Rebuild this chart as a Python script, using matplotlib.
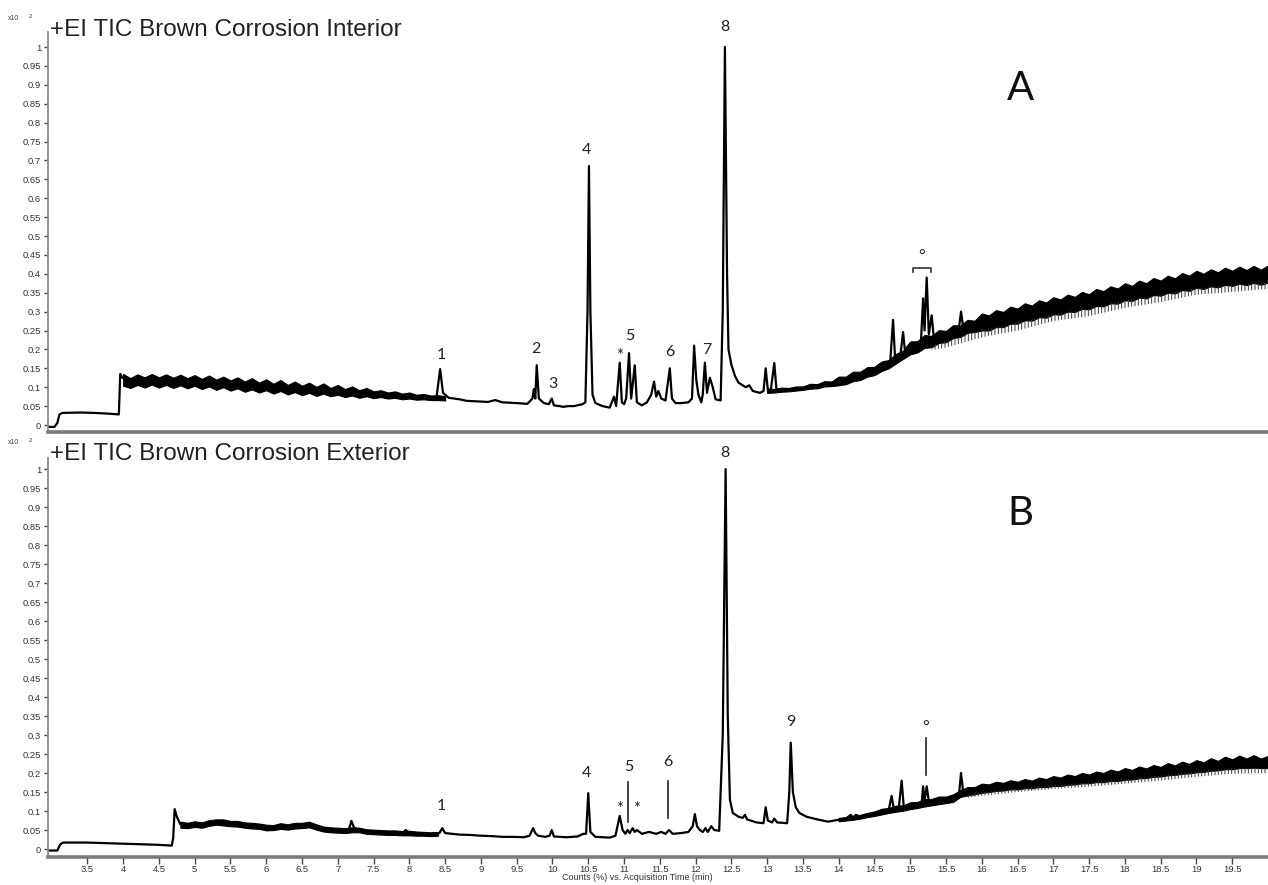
#!/usr/bin/env python3
"""GC-MS total ion chromatograms of brown corrosion, interior (A) and exterior (B)."""

import matplotlib
matplotlib.use('Agg')
import matplotlib.pyplot as plt
import numpy as np

# ---------------- panel A : interior ----------------
# (time [min], counts [x10^2 %]) thin trace incl. peaks
a_trace = [
    (2.95, -0.005), (3.04, -0.005), (3.08, 0.005), (3.11, 0.028), (3.15, 0.032),
    (3.4, 0.033), (3.6, 0.032), (3.8, 0.030), (3.94, 0.028), (3.96, 0.135),
    (3.99, 0.125), (4.1, 0.116), (4.5, 0.118), (5.0, 0.116), (5.5, 0.110),
    (6.0, 0.102), (6.5, 0.096), (7.0, 0.089), (7.5, 0.082), (8.0, 0.076),
    (8.3, 0.072), (8.38, 0.074), (8.43, 0.148), (8.47, 0.085), (8.55, 0.072),
    (8.7, 0.068), (8.8, 0.064), (8.9, 0.063), (9.0, 0.062), (9.1, 0.061),
    (9.2, 0.066), (9.3, 0.060), (9.4, 0.059), (9.5, 0.058), (9.65, 0.056),
    (9.72, 0.070), (9.74, 0.095), (9.76, 0.070), (9.78, 0.158), (9.81, 0.070),
    (9.88, 0.058), (9.95, 0.055), (9.99, 0.070), (10.02, 0.052), (10.1, 0.050),
    (10.15, 0.048), (10.22, 0.050), (10.3, 0.050), (10.42, 0.055), (10.46, 0.060),
    (10.49, 0.300), (10.51, 0.685), (10.53, 0.300), (10.56, 0.080), (10.6, 0.058),
    (10.7, 0.050), (10.8, 0.046), (10.86, 0.075), (10.89, 0.050), (10.94, 0.165),
    (10.97, 0.060), (11.0, 0.055), (11.03, 0.070), (11.07, 0.190), (11.1, 0.070),
    (11.15, 0.158), (11.18, 0.060), (11.25, 0.052), (11.32, 0.060), (11.38, 0.080),
    (11.42, 0.115), (11.45, 0.075), (11.48, 0.090), (11.52, 0.070), (11.58, 0.065),
    (11.64, 0.150), (11.67, 0.070), (11.72, 0.058), (11.8, 0.058), (11.9, 0.060),
    (11.95, 0.070), (11.98, 0.210), (12.01, 0.120), (12.04, 0.080), (12.08, 0.060),
    (12.1, 0.080), (12.13, 0.165), (12.16, 0.085), (12.2, 0.125), (12.24, 0.100),
    (12.28, 0.068), (12.35, 0.065), (12.38, 0.300), (12.41, 1.000), (12.44, 0.400),
    (12.46, 0.200), (12.5, 0.160), (12.55, 0.130), (12.6, 0.112), (12.7, 0.100),
    (12.75, 0.105), (12.8, 0.090), (12.9, 0.085), (12.95, 0.090), (12.98, 0.150),
    (13.01, 0.092), (13.05, 0.090), (13.1, 0.164), (13.13, 0.095), (13.2, 0.092),
    (13.5, 0.098), (14.0, 0.115), (14.5, 0.147), (14.72, 0.165), (14.76, 0.278),
    (14.79, 0.170), (14.86, 0.180), (14.9, 0.246), (14.93, 0.190), (15.05, 0.210),
    (15.15, 0.220), (15.18, 0.335), (15.2, 0.250), (15.23, 0.390), (15.26, 0.240),
    (15.3, 0.290), (15.33, 0.230), (15.5, 0.241), (15.68, 0.255), (15.71, 0.300),
    (15.74, 0.258), (16.0, 0.275), (17.0, 0.318), (18.0, 0.355), (19.0, 0.388),
    (20.0, 0.402),
]

# thick noisy baseline band, sampled every 0.1 min
a_band1_time = np.round(np.arange(4.0, 8.55, 0.1), 2)
a_band1_upper = [
    .135, .124, .134, .126, .135, .126, .134, .125, .133, .124,
    .132, .122, .131, .120, .128, .118, .126, .115, .124, .112,
    .121, .109, .119, .106, .115, .104, .112, .101, .110, .098,
    .106, .095, .102, .092, .098, .089, .092, .086, .089, .083,
    .086, .080, .082, .078, .079, .076,
]
a_band1_lower = [
    .104, .098, .106, .099, .107, .099, .106, .098, .105, .097,
    .104, .095, .102, .093, .100, .091, .097, .088, .094, .086,
    .092, .083, .090, .081, .087, .079, .085, .077, .083, .076,
    .080, .074, .078, .072, .076, .071, .074, .070, .072, .068,
    .070, .067, .068, .066, .066, .065,
]

a_band2_time = np.round(np.arange(13.0, 20.05, 0.1), 2)
a_band2_upper = [
    .097, .095, .099, .098, .102, .102, .109, .108, .116, .115,
    .128, .128, .141, .141, .153, .154, .168, .172, .188, .197,
    .221, .222, .238, .236, .251, .249, .264, .263, .278, .276,
    .295, .290, .304, .299, .313, .308, .322, .316, .330, .324,
    .338, .332, .345, .339, .352, .346, .360, .354, .367, .361,
    .375, .368, .382, .375, .389, .382, .395, .388, .402, .395,
    .408, .400, .412, .404, .416, .408, .419, .410, .421, .411,
    .422,
]
a_band2_lower = [
    .085, .086, .088, .089, .091, .093, .096, .097, .102, .103,
    .105, .108, .116, .119, .128, .132, .143, .150, .163, .175,
    .187, .192, .204, .206, .217, .219, .230, .233, .244, .246,
    .250, .250, .259, .259, .268, .268, .277, .276, .285, .284,
    .293, .292, .300, .299, .307, .306, .315, .314, .322, .321,
    .330, .328, .337, .335, .344, .342, .350, .348, .357, .355,
    .363, .360, .367, .364, .371, .368, .374, .370, .376, .371,
    .377,
]

# hatch-like fringe under the band
a_fringe_time = [15.3, 15.5, 16.0, 16.5, 17.0, 17.5, 18.0, 18.5, 19.0, 19.5, 20.0]
a_fringe_top = [.210, .222, .252, .270, .293, .308, .330, .344, .362, .370, .378]
a_fringe_bottom = [.198, .205, .232, .250, .275, .288, .310, .325, .345, .352, .360]

# ---------------- panel B : exterior ----------------
b_trace = [
    (2.95, -0.004), (3.08, -0.004), (3.12, 0.012), (3.16, 0.017), (3.5, 0.017),
    (4.0, 0.014), (4.5, 0.011), (4.68, 0.009), (4.70, 0.030), (4.72, 0.105),
    (4.75, 0.085), (4.8, 0.065), (5.0, 0.065), (5.5, 0.067), (6.0, 0.056),
    (6.5, 0.062), (7.0, 0.049), (7.15, 0.048), (7.19, 0.074), (7.23, 0.055),
    (7.4, 0.046), (7.9, 0.042), (7.95, 0.050), (8.0, 0.042), (8.3, 0.039),
    (8.42, 0.042), (8.46, 0.055), (8.5, 0.042), (8.6, 0.040), (8.7, 0.038),
    (8.85, 0.037), (9.0, 0.035), (9.15, 0.034), (9.3, 0.032), (9.45, 0.032),
    (9.6, 0.031), (9.68, 0.035), (9.73, 0.055), (9.76, 0.042), (9.8, 0.035),
    (9.9, 0.032), (9.96, 0.035), (9.99, 0.050), (10.02, 0.033), (10.1, 0.032),
    (10.2, 0.031), (10.35, 0.033), (10.43, 0.040), (10.47, 0.040), (10.5, 0.147),
    (10.53, 0.045), (10.6, 0.032), (10.7, 0.031), (10.8, 0.030), (10.88, 0.035),
    (10.94, 0.087), (10.98, 0.050), (11.02, 0.040), (11.05, 0.050), (11.08, 0.042),
    (11.12, 0.055), (11.15, 0.045), (11.18, 0.050), (11.25, 0.040), (11.35, 0.045),
    (11.45, 0.040), (11.52, 0.045), (11.58, 0.040), (11.63, 0.050), (11.68, 0.040),
    (11.8, 0.042), (11.9, 0.045), (11.96, 0.060), (11.99, 0.092), (12.02, 0.060),
    (12.06, 0.050), (12.1, 0.045), (12.14, 0.055), (12.17, 0.045), (12.22, 0.060),
    (12.26, 0.050), (12.33, 0.048), (12.38, 0.300), (12.42, 1.000), (12.45, 0.350),
    (12.48, 0.130), (12.52, 0.095), (12.6, 0.085), (12.66, 0.082), (12.69, 0.090),
    (12.72, 0.078), (12.85, 0.070), (12.95, 0.068), (12.98, 0.110), (13.01, 0.075),
    (13.07, 0.070), (13.1, 0.080), (13.14, 0.070), (13.28, 0.068), (13.31, 0.150),
    (13.33, 0.280), (13.36, 0.150), (13.4, 0.110), (13.45, 0.095), (13.55, 0.085),
    (13.7, 0.078), (13.85, 0.072), (14.0, 0.077), (14.1, 0.080), (14.17, 0.090),
    (14.2, 0.080), (14.24, 0.090), (14.3, 0.085), (14.6, 0.099), (14.7, 0.103),
    (14.74, 0.140), (14.77, 0.105), (14.84, 0.108), (14.88, 0.180), (14.91, 0.110),
    (15.1, 0.118), (15.16, 0.120), (15.18, 0.165), (15.2, 0.125), (15.23, 0.165),
    (15.26, 0.125), (15.4, 0.129), (15.65, 0.135), (15.68, 0.140), (15.71, 0.200),
    (15.74, 0.150), (16.0, 0.160), (17.0, 0.179), (18.0, 0.199), (19.0, 0.219),
    (20.0, 0.229),
]

b_band1_time = np.round(np.arange(4.8, 8.45, 0.1), 2)
b_band1_upper = [
    .072, .069, .073, .070, .076, .078, .078, .074, .074, .070,
    .069, .067, .064, .063, .068, .065, .069, .069, .072, .065,
    .059, .057, .056, .055, .057, .056, .052, .051, .050, .049,
    .049, .047, .048, .046, .045, .044, .045,
]
b_band1_lower = [
    .056, .055, .058, .056, .061, .064, .062, .060, .059, .056,
    .054, .053, .049, .050, .053, .051, .054, .055, .057, .051,
    .046, .044, .043, .042, .044, .044, .040, .039, .038, .037,
    .037, .036, .036, .035, .035, .034, .035,
]

b_band2_time = np.round(np.arange(14.0, 20.05, 0.1), 2)
b_band2_upper = [
    .082, .084, .088, .090, .095, .099, .106, .108, .114, .115,
    .123, .124, .131, .132, .138, .138, .144, .155, .163, .163,
    .172, .170, .177, .174, .181, .177, .184, .180, .188, .184,
    .192, .188, .196, .192, .200, .196, .204, .200, .209, .204,
    .213, .208, .217, .212, .221, .216, .226, .220, .230, .224,
    .234, .228, .239, .232, .243, .236, .246, .238, .247, .238,
    .245,
]
b_band2_lower = [
    .073, .075, .077, .080, .084, .087, .091, .095, .098, .101,
    .105, .108, .112, .115, .118, .121, .124, .137, .141, .144,
    .148, .150, .153, .154, .157, .157, .160, .160, .163, .163,
    .166, .166, .169, .170, .173, .173, .176, .176, .179, .179,
    .182, .183, .186, .187, .190, .191, .194, .195, .198, .199,
    .202, .203, .206, .207, .210, .210, .213, .213, .214, .213,
    .213,
]

b_fringe_time = [15.8, 16.0, 16.5, 17.0, 17.5, 18.0, 18.5, 19.0, 19.5, 20.0]
b_fringe_top = [.143, .150, .159, .168, .175, .184, .193, .204, .212, .214]
b_fringe_bottom = [.135, .140, .150, .158, .164, .172, .180, .190, .198, .200]

# peak annotations: (text, time, level)
a_labels = [('8', 12.41, 1.053), ('4', 10.48, 0.728), ('1', 8.44, 0.185),
            ('2', 9.77, 0.200), ('3', 10.01, 0.108), ('*', 10.94, 0.183),
            ('5', 11.08, 0.235), ('6', 11.64, 0.193), ('7', 12.16, 0.198),
            ('°', 15.16, 0.445)]
b_labels = [('8', 12.41, 1.042), ('9', 13.33, 0.334), ('4', 10.48, 0.200),
            ('1', 8.44, 0.113), ('5', 11.06, 0.216), ('*', 10.94, 0.106),
            ('*', 11.18, 0.106), ('6', 11.61, 0.229), ('°', 15.22, 0.318)]
# vertical marker lines: (time, bottom, top)
b_markers = [(11.06, 0.071, 0.176), (11.61, 0.082, 0.179), (15.22, 0.195, 0.292)]

ytick_values = np.round(np.arange(0, 1.001, 0.05), 2)
xtick_values = np.round(np.arange(3.5, 19.51, 0.5), 1)

TICK_FONT = 'Liberation Sans'
PEAK_FONT = 'Lato'


def draw_panel(ax, trace, bands, fringe, ylim):
    t, v = np.array(trace).T
    for band_t, low, high in bands:
        ax.fill_between(band_t, low, high, color='black', linewidth=0.8)
    ft, ftop, fbot = fringe
    ax.fill_between(ft, fbot, ftop, facecolor='none', edgecolor='#3a3a3a',
                    hatch='|||||', linewidth=0)
    ax.plot(t, v, color='black', linewidth=1.6)

    ax.set_xlim(2.95, 20.0)
    ax.set_ylim(*ylim)
    for side in ('top', 'right'):
        ax.spines[side].set_visible(False)
    ax.spines['left'].set_color('#8a8a8a')
    ax.spines['left'].set_linewidth(1.3)
    ax.spines['bottom'].set_color('#7a7a7a')
    ax.spines['bottom'].set_linewidth(2.6)

    ax.set_yticks(ytick_values)
    ax.set_yticklabels([f'{val:g}' for val in ytick_values], fontsize=6.8,
                       color='#333333', family=TICK_FONT)
    ax.tick_params(axis='y', direction='out', length=3, width=1, color='#444444', pad=2)


def main():
    plt.rcParams['hatch.linewidth'] = 0.7
    fig = plt.figure(figsize=(12.68, 8.85), dpi=100)
    ax_a = fig.add_axes([48 / 1268, 1 - 432 / 885, 1 - 48 / 1268, 400 / 885])
    ax_b = fig.add_axes([48 / 1268, 1 - 857 / 885, 1 - 48 / 1268, 399 / 885])

    draw_panel(ax_a, a_trace,
               [(a_band1_time, a_band1_lower, a_band1_upper),
                (a_band2_time, a_band2_lower, a_band2_upper)],
               (a_fringe_time, a_fringe_top, a_fringe_bottom),
               (-0.0185, 1.0397))
    draw_panel(ax_b, b_trace,
               [(b_band1_time, b_band1_lower, b_band1_upper),
                (b_band2_time, b_band2_lower, b_band2_upper)],
               (b_fringe_time, b_fringe_top, b_fringe_bottom),
               (-0.021, 1.029))

    ax_a.set_xticks([])
    ax_b.set_xticks(xtick_values)
    ax_b.set_xticklabels([f'{val:g}' for val in xtick_values], fontsize=6.8,
                         color='#333333', family=TICK_FONT)
    ax_b.tick_params(axis='x', direction='out', length=5, width=1, color='#444444', pad=1)

    for ax, labels in ((ax_a, a_labels), (ax_b, b_labels)):
        for text, t, v in labels:
            size = 12 if text == '*' else 11.5
            ax.text(t, v, text, ha='center', va='center', fontsize=size,
                    family=PEAK_FONT, color='#222222', clip_on=False)
    for t, lo, hi in b_markers:
        ax_b.plot([t, t], [lo, hi], color='#222222', linewidth=1.2)
    # bracket over the grouped peaks in A
    ax_a.plot([15.04, 15.04, 15.29, 15.29], [0.405, 0.415, 0.415, 0.405],
              color='#333333', linewidth=1.2)

    ax_a.text(0.797, 0.86, 'A', transform=ax_a.transAxes, fontsize=29,
              family=PEAK_FONT, color='#111111', ha='center', va='center')
    ax_b.text(0.797, 0.86, 'B', transform=ax_b.transAxes, fontsize=29,
              family=PEAK_FONT, color='#111111', ha='center', va='center')

    for y_px, title in ((30, '+EI TIC Brown Corrosion Interior'),
                        (454, '+EI TIC Brown Corrosion Exterior')):
        fig.text(50 / 1268, 1 - y_px / 885, title, fontsize=17.5, family=TICK_FONT,
                 color='#222222', ha='left', va='center')
        fig.text(8 / 1268, 1 - (y_px - 12) / 885, 'x10', fontsize=5, family=TICK_FONT,
                 color='#444444', ha='left', va='center')
        fig.text(29 / 1268, 1 - (y_px - 14) / 885, '2', fontsize=4.5, family=TICK_FONT,
                 color='#444444', ha='left', va='center')

    fig.text(637 / 1268, 1 - 878 / 885, 'Counts (%) vs. Acquisition Time (min)',
             fontsize=6.5, family=TICK_FONT, color='#333333', ha='center', va='center')

    fig.savefig('out.png', dpi=100)


if __name__ == '__main__':
    main()
